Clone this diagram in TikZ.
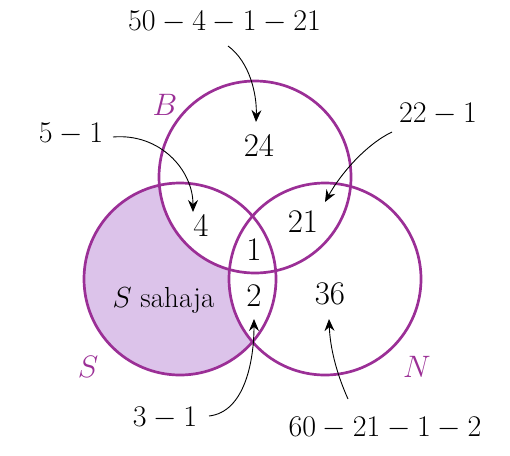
\RequirePackage{fix-cm}
\documentclass[tikz,border=0pt]{standalone}
\usetikzlibrary{arrows.meta}
\definecolor{vstroke}{HTML}{9B2F96}
\definecolor{vfill}{HTML}{DCC3EA}
\begin{document}
\begin{tikzpicture}[x=1pt,y=-1pt,
  setline/.style={draw=vstroke,line width=2.7pt},
  lbl/.style={inner sep=0pt,font=\fontsize{30}{34}\selectfont},
  num/.style={inner sep=0pt,font=\fontsize{33}{38}\selectfont},
  setname/.style={inner sep=0pt,text=vstroke,font=\fontsize{31}{34}\selectfont},
  arr/.style={-{Stealth[length=12pt,width=10pt,inset=4pt]},line width=0.9pt}]
\useasboundingbox (0,0) rectangle (510,455);
% shaded region: S only
\fill[vfill] (180,279) circle[radius=96];
\begin{scope}
  \clip (180,279) circle[radius=96];
  \fill[white] (255,177) circle[radius=96];
  \fill[white] (325,279) circle[radius=96];
\end{scope}
\path[setline] (255,177) circle[radius=96];
\path[setline] (180,279) circle[radius=96];
\path[setline] (325,279) circle[radius=96];
% set names
\node[setname] (nB) at (165,105) {$B$};
\node[setname] (nS) at (88,367) {$S$};
\node[setname] (nN) at (417,367) {$N$};
% region numbers
\node[num] (r24) at (259,146) {$24$};
\node[num] (r4) at (201,226) {$4$};
\node[num] (r21) at (303,222) {$21$};
\node[num] (r1) at (254,250) {$1$};
\node[num] (r2) at (254,296) {$2$};
\node[num] (r36) at (330,294) {$36$};
\node[inner sep=0pt,font=\fontsize{29}{32}\selectfont,anchor=base] (rS) at (163.5,307) {$S$ sahaja};
% labels
\node[lbl] (l1) at (224.5,22) {$50-4-1-21$};
\node[lbl] (l2) at (71,134.5) {$5-1$};
\node[lbl] (l3) at (438,114) {$22-1$};
\node[lbl] (l4) at (165,418) {$3-1$};
\node[lbl] (l5) at (385,428) {$60-21-1-2$};
% arrow ends
\coordinate (a1s) at (228,46);  \coordinate (a1e) at (256,122);
\coordinate (a2s) at (113,137); \coordinate (a2e) at (193,212);
\coordinate (a3s) at (392,132); \coordinate (a3e) at (325,202);
\coordinate (a4s) at (209,416); \coordinate (a4e) at (254,319);
\coordinate (a5s) at (348,399); \coordinate (a5e) at (329,319);
\draw[arr] (a1s) .. controls (250,62) and (257,95) .. (a1e);
\draw[arr] (a2s) .. controls (160,133) and (193,170) .. (a2e);
\draw[arr] (a3s) .. controls (365,145) and (340,175) .. (a3e);
\draw[arr] (a4s) .. controls (245,412) and (254,360) .. (a4e);
\draw[arr] (a5s) .. controls (335,370) and (330,345) .. (a5e);
\end{tikzpicture}
\end{document}
